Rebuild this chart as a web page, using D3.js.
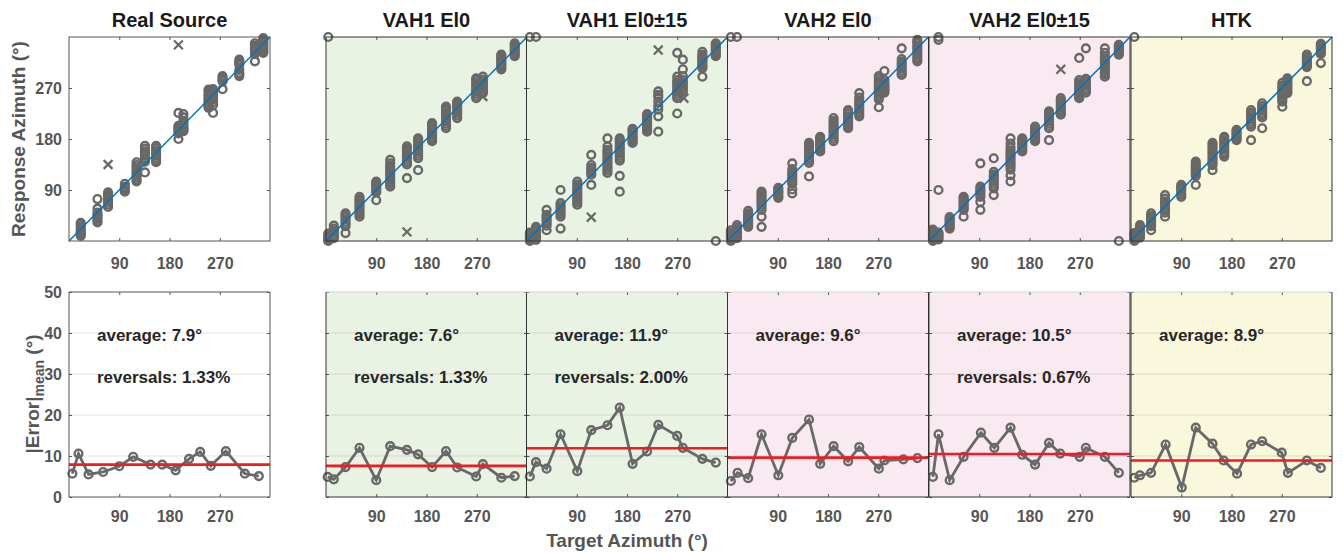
<!DOCTYPE html>
<html>
<head>
<meta charset="utf-8">
<script src="https://cdn.jsdelivr.net/npm/d3@7"></script>
<style>
  body { margin: 0; background: #fff; }
  text { font-family: "Liberation Sans", Arial, sans-serif; font-weight: bold; }
</style>
</head>
<body>
<svg width="1343" height="553"></svg>
<script>
// ---- data (degrees) ----
const titles = ["Real Source", "VAH1 El0", "VAH1 El0\u00b115", "VAH2 El0", "VAH2 El0\u00b115", "HTK"];
const averages = [7.9, 7.6, 11.9, 9.6, 10.5, 8.9];
const reversalRates = ["1.33%", "1.33%", "2.00%", null, "0.67%", null];
const azTicks = [90, 180, 270];
const errTicks = [0, 10, 20, 30, 40, 50];

// scatter: target azimuth and the responses given for it
const realTargets = [21, 51, 70, 100, 121, 136, 156, 196, 205, 250, 258, 275, 305, 333, 348];
const realResponses = [
  [9, 12, 15, 18, 21, 25, 29, 32], [33, 36, 40, 43, 46, 50, 57, 74], [60, 64, 68, 72, 76, 80, 83, 86], [87, 90, 93, 96, 101],
  [105, 108, 112, 116, 119, 122, 126, 130, 134, 139], [121, 140, 143, 146, 150, 154, 158, 163, 168], [139, 142, 146, 150, 153, 156, 160, 164, 168],
  [180, 190, 194, 197, 200, 203, 226], [194, 197, 200, 204, 208, 212, 218, 224], [235, 238, 241, 245, 248, 251, 254, 257, 260, 264, 267],
  [226, 240, 245, 250, 254, 258, 262, 265, 268], [268, 282, 285, 288, 291], [291, 294, 297, 302, 311, 314, 317, 320],
  [317, 330, 333, 336, 339, 342, 345, 349], [332, 335, 338, 341, 344, 347, 350, 353, 356, 358]];
const realReversals = [[70, 135], [196, 346]];

const vah1El0Targets = [4, 14, 35, 60, 90, 115, 145, 165, 190, 215, 235, 269, 281, 314, 338];
const vah1El0Responses = [
  [0, 3, 6, 9, 13, 360], [5, 8, 11, 15, 18, 22, 27], [14, 26, 30, 34, 38, 42, 46, 49], [43, 47, 51, 55, 59, 63, 67, 71, 74, 78],
  [72, 86, 89, 92, 95, 99, 102, 105], [96, 100, 104, 108, 112, 116, 120, 124, 128, 132, 137, 143], [111, 135, 139, 143, 147, 151, 155, 159, 163, 167],
  [125, 146, 150, 154, 158, 162, 166, 170, 174, 178, 181], [176, 179, 182, 186, 190, 194, 198, 202, 205, 208], [199, 203, 207, 211, 215, 219, 223, 227, 231, 234, 237],
  [217, 221, 225, 229, 233, 237, 241, 244, 246], [252, 256, 260, 264, 268, 272, 276, 280, 284, 287], [261, 265, 269, 273, 277, 281, 285, 290],
  [303, 306, 309, 312, 315, 318, 321, 324, 327, 329], [326, 329, 332, 335, 338, 341, 344, 347, 349]];
const vah1El0Reversals = [[145, 16], [281, 255]];

const vah1El15Targets = [6, 17, 36, 61, 91, 116, 145, 167, 190, 216, 236, 270, 280, 315, 339];
const vah1El15Responses = [
  [0, 3, 6, 9, 12, 15, 360], [2, 6, 10, 14, 18, 22, 25, 360], [19, 27, 31, 35, 39, 43, 46, 55], [22, 43, 47, 51, 55, 59, 63, 67, 90],
  [64, 68, 72, 76, 80, 84, 88, 92, 96, 100, 105], [99, 117, 121, 125, 129, 134, 152], [120, 124, 128, 132, 137, 141, 145, 149, 153, 157, 161, 167, 181],
  [87, 115, 142, 146, 150, 154, 158, 162, 166, 170, 174, 178, 181], [173, 176, 179, 182, 185, 188, 192, 195, 198], [193, 196, 199, 202, 205, 208, 212, 215, 218, 221, 224],
  [193, 220, 232, 238, 246, 254, 258, 264], [225, 252, 256, 260, 264, 268, 272, 276, 280, 284, 290, 332],
  [264, 268, 272, 276, 280, 284, 291, 303, 320], [290, 305, 308, 311, 314, 317, 320, 323, 326, 329, 334], [0, 326, 329, 332, 335, 338, 341, 344, 347, 349]];
const vah1El15Reversals = [[116, 42], [236, 337], [282, 252]];

const vah2El0Targets = [6, 17, 37, 61, 91, 116, 146, 166, 190, 216, 236, 271, 281, 312, 340];
const vah2El0Responses = [
  [0, 3, 6, 9, 12, 15, 19, 360], [5, 8, 11, 14, 17, 20, 24, 28, 360], [25, 28, 31, 34, 37, 40, 43, 46, 49, 53], [25, 43, 55, 60, 64, 68, 72, 76, 80, 84, 87],
  [76, 79, 82, 85, 88, 91, 94], [84, 91, 101, 105, 109, 113, 117, 121, 127, 137], [114, 138, 142, 146, 150, 154, 158, 162, 166, 170, 173],
  [158, 161, 164, 167, 170, 173, 176, 179, 182, 184], [176, 180, 184, 188, 192, 196, 200, 204, 208, 212, 217], [199, 202, 205, 208, 211, 214, 217, 220, 224, 228, 231],
  [220, 224, 228, 232, 236, 240, 244, 248, 253, 261], [236, 250, 254, 258, 262, 266, 270, 274, 278, 282, 287, 291],
  [262, 265, 268, 271, 274, 277, 280, 284, 300], [293, 296, 300, 304, 308, 312, 316, 321, 340], [317, 321, 325, 329, 333, 337, 341, 345, 349, 352, 355]];
const vah2El0Reversals = [];

const vah2El15Targets = [7, 17, 37, 62, 92, 116, 146, 167, 190, 215, 236, 269, 281, 315, 340];
const vah2El15Responses = [
  [0, 3, 6, 9, 12, 15, 18, 20], [3, 6, 9, 12, 15, 90, 355, 360], [22, 25, 28, 31, 34, 37, 40, 42], [43, 55, 58, 61, 64, 67, 70, 73, 76, 78],
  [55, 69, 78, 82, 86, 89, 92, 96, 137], [81, 93, 97, 101, 105, 109, 113, 117, 122, 146],
  [105, 116, 126, 131, 135, 139, 143, 147, 151, 155, 160, 165, 172, 181], [158, 161, 164, 167, 170, 173, 176, 179, 181], [176, 179, 182, 185, 188, 191, 194, 198, 202],
  [178, 199, 203, 207, 211, 215, 219, 223, 226, 229], [223, 226, 229, 232, 236, 240, 244, 248, 252], [252, 255, 258, 261, 264, 268, 272, 276, 280, 284, 323],
  [262, 266, 270, 274, 278, 282, 286, 340], [290, 294, 298, 302, 306, 310, 314, 318, 322, 326, 332, 340], [0, 329, 332, 335, 338, 341, 344, 346]];
const vah2El15Reversals = [[236, 303]];

const htkTargets = [6, 16, 36, 61, 90, 116, 146, 167, 189, 215, 235, 271, 280, 315, 340];
const htkResponses = [
  [0, 3, 6, 9, 12, 14, 360], [6, 9, 12, 15, 18, 21, 25, 28], [19, 26, 29, 32, 35, 38, 41, 45, 49], [43, 50, 54, 58, 62, 66, 70, 75, 81],
  [78, 82, 86, 90, 93, 96, 99], [99, 115, 118, 121, 124, 127, 130, 133, 136, 140], [125, 134, 138, 142, 146, 150, 154, 158, 162, 166, 170, 173],
  [149, 153, 157, 161, 165, 169, 173, 177, 181, 184], [178, 181, 184, 187, 190, 193, 196], [178, 202, 206, 210, 214, 218, 222, 226, 231],
  [199, 218, 222, 226, 230, 234, 238, 243], [237, 246, 250, 254, 258, 262, 266, 270, 274, 279], [261, 264, 267, 270, 273, 276, 279, 282, 285, 287],
  [282, 307, 310, 313, 316, 319, 322, 325, 329], [314, 330, 333, 336, 339, 342, 345, 348]];
const htkReversals = [];

// mean absolute error per target
const realErrX = [6, 17, 35, 61, 90, 115, 146, 167, 191, 215, 235, 254, 281, 315, 340];
const realErrY = [5.7, 10.6, 5.5, 6.1, 7.5, 9.8, 7.9, 7.9, 6.5, 9.3, 11.0, 7.6, 11.2, 5.7, 5.1];
const vah1El0ErrX = [3, 14, 35, 60, 90, 115, 145, 165, 190, 215, 235, 269, 281, 314, 338];
const vah1El0ErrY = [4.9, 4.3, 7.3, 12.0, 4.1, 12.4, 11.5, 10.4, 7.3, 11.2, 7.2, 5.0, 8.0, 4.7, 5.1];
const vah1El15ErrX = [6, 17, 36, 61, 91, 116, 145, 167, 190, 216, 236, 270, 280, 315, 339];
const vah1El15ErrY = [5.0, 8.5, 6.9, 15.3, 6.3, 16.3, 17.5, 21.8, 8.1, 11.1, 17.6, 14.9, 12.0, 9.3, 8.4];
const vah2El0ErrX = [6, 18, 37, 61, 91, 116, 146, 166, 190, 216, 236, 271, 281, 315, 340];
const vah2El0ErrY = [3.9, 5.9, 4.6, 15.3, 5.3, 14.4, 18.9, 8.1, 12.4, 8.7, 12.2, 6.9, 8.9, 9.2, 9.5];
const vah2El15ErrX = [7, 17, 37, 62, 93, 117, 146, 167, 190, 215, 235, 270, 281, 315, 340];
const vah2El15ErrY = [4.9, 15.3, 4.1, 9.8, 15.7, 12.0, 16.9, 10.3, 7.9, 13.2, 10.6, 9.8, 12.0, 9.8, 5.9];
const htkErrX = [6, 16, 36, 62, 91, 116, 146, 166, 190, 215, 235, 270, 281, 315, 340];
const htkErrY = [4.7, 5.3, 5.9, 12.8, 2.3, 16.9, 13.0, 8.9, 5.7, 12.8, 13.6, 10.8, 5.9, 8.9, 7.1];

const panels = [
  [realTargets, realResponses, realReversals, realErrX, realErrY],
  [vah1El0Targets, vah1El0Responses, vah1El0Reversals, vah1El0ErrX, vah1El0ErrY],
  [vah1El15Targets, vah1El15Responses, vah1El15Reversals, vah1El15ErrX, vah1El15ErrY],
  [vah2El0Targets, vah2El0Responses, vah2El0Reversals, vah2El0ErrX, vah2El0ErrY],
  [vah2El15Targets, vah2El15Responses, vah2El15Reversals, vah2El15ErrX, vah2El15ErrY],
  [htkTargets, htkResponses, htkReversals, htkErrX, htkErrY]
].map((p, i) => ({
  title: titles[i], avg: averages[i], rev: reversalRates[i],
  points: p[0].flatMap((t, j) => p[1][j].map(r => [t, r])),
  crosses: p[2],
  err: p[3].map((x, j) => [x, p[4][j]])
}));

// ---- layout ----
const svg = d3.select("svg");
const lefts = [69, 326, 526.5, 727.5, 929, 1131];
const panelW = 201;
const bgColors = [null, "#e9f3e4", "#e9f3e4", "#f9eaf2", "#f9eaf2", "#f9f8dc"];
const gray = "#686868";
const axisCol = "#555";
const labelCol = "#555";

function styleAxis(g, showLabels) {
  g.select(".domain").remove();
  g.selectAll(".tick line").attr("stroke", axisCol);
  g.selectAll(".tick text")
    .attr("fill", labelCol)
    .style("font-size", "16px")
    .style("display", showLabels ? null : "none");
}

function drawCircles(g, data, x, y) {
  g.selectAll(null).data(data).join("circle")
    .attr("cx", d => x(d[0])).attr("cy", d => y(d[1])).attr("r", 3.9)
    .attr("fill", "none").attr("stroke", gray).attr("stroke-width", 2.4);
}

panels.forEach((p, i) => {
  const left = lefts[i], right = left + panelW;
  const x = d3.scaleLinear().domain([0, 360]).range([left, right]);
  const yTop = d3.scaleLinear().domain([0, 360]).range([241, 37]);
  const yBot = d3.scaleLinear().domain([0, 50]).range([497, 292]);

  // --- top: response vs target ---
  const gt = svg.append("g");
  if (bgColors[i]) gt.append("rect").attr("x", left).attr("y", 37).attr("width", panelW).attr("height", 204).attr("fill", bgColors[i]);
  drawCircles(gt, p.points, x, yTop);
  gt.selectAll(null).data(p.crosses).join("path")
    .attr("d", d => { const cx = x(d[0]), cy = yTop(d[1]), s = 4.4;
      return `M${cx - s},${cy - s}L${cx + s},${cy + s}M${cx - s},${cy + s}L${cx + s},${cy - s}`; })
    .attr("stroke", gray).attr("stroke-width", 2.2).attr("fill", "none");
  gt.append("line")
    .attr("x1", x(0)).attr("y1", yTop(0)).attr("x2", x(360)).attr("y2", yTop(360))
    .attr("stroke", "#0072bd").attr("stroke-width", 1.5);

  gt.append("g").attr("transform", "translate(0,241)")
    .call(d3.axisBottom(x).tickValues(azTicks).tickSize(-3).tickPadding(17))
    .call(g => styleAxis(g, true));
  gt.append("g").attr("transform", "translate(0,37)")
    .call(d3.axisTop(x).tickValues(azTicks).tickSize(-3)).call(g => styleAxis(g, false));
  gt.append("g").attr("transform", `translate(${left},0)`)
    .call(d3.axisLeft(yTop).tickValues(azTicks).tickSize(-3).tickPadding(7))
    .call(g => styleAxis(g, i === 0));
  gt.append("g").attr("transform", `translate(${right},0)`)
    .call(d3.axisRight(yTop).tickValues(azTicks).tickSize(-3)).call(g => styleAxis(g, false));
  gt.append("rect").attr("x", left).attr("y", 37).attr("width", panelW).attr("height", 204)
    .attr("fill", "none").attr("stroke", i === 0 ? axisCol : "#333").attr("stroke-width", 1);

  gt.append("text").attr("x", (left + right) / 2).attr("y", 26.5)
    .attr("text-anchor", "middle").attr("fill", "#1a1a1a").style("font-size", "20px")
    .text(p.title);

  // --- bottom: mean absolute error ---
  const gb = svg.append("g");
  if (bgColors[i]) gb.append("rect").attr("x", left).attr("y", 292).attr("width", panelW).attr("height", 205).attr("fill", bgColors[i]);
  gb.selectAll(null).data([10, 20, 30, 40]).join("line")
    .attr("x1", left).attr("x2", right).attr("y1", d => yBot(d)).attr("y2", d => yBot(d))
    .attr("stroke", "#262626").attr("stroke-opacity", 0.13).attr("stroke-width", 1);

  gb.append("path").datum(p.err)
    .attr("d", d3.line().x(d => x(d[0])).y(d => yBot(d[1])))
    .attr("fill", "none").attr("stroke", gray).attr("stroke-width", 2.8);
  drawCircles(gb, p.err, x, yBot);
  gb.append("line")
    .attr("x1", x(0)).attr("x2", x(360)).attr("y1", yBot(p.avg)).attr("y2", yBot(p.avg))
    .attr("stroke", "#f01c22").attr("stroke-width", 2.6);

  gb.append("g").attr("transform", "translate(0,497)")
    .call(d3.axisBottom(x).tickValues(azTicks).tickSize(-3).tickPadding(14))
    .call(g => styleAxis(g, true));
  gb.append("g").attr("transform", "translate(0,292)")
    .call(d3.axisTop(x).tickValues(azTicks).tickSize(-3)).call(g => styleAxis(g, false));
  gb.append("g").attr("transform", `translate(${left},0)`)
    .call(d3.axisLeft(yBot).tickValues(errTicks).tickSize(-3).tickPadding(7))
    .call(g => styleAxis(g, i === 0));
  gb.append("g").attr("transform", `translate(${right},0)`)
    .call(d3.axisRight(yBot).tickValues(errTicks).tickSize(-3)).call(g => styleAxis(g, false));

  // box: bottom and sides, top edge lighter on shaded panels
  gb.append("path")
    .attr("d", `M${left},292V497H${right}V292`)
    .attr("fill", "none").attr("stroke", i === 0 ? axisCol : "#333");
  gb.append("line").attr("x1", left).attr("x2", right).attr("y1", 292).attr("y2", 292)
    .attr("stroke", i === 0 ? axisCol : "#d4d4d4");

  gb.append("text").attr("x", left + 28).attr("y", 341)
    .attr("fill", "#262626").style("font-size", "17px")
    .text(`average: ${p.avg.toFixed(1)}\u00b0`);
  if (p.rev) {
    gb.append("text").attr("x", left + 28).attr("y", 383)
      .attr("fill", "#262626").style("font-size", "17px")
      .text(`reversals: ${p.rev}`);
  }
});

// axis titles
svg.append("text").attr("transform", "translate(25,139) rotate(-90)")
  .attr("text-anchor", "middle").attr("fill", labelCol).style("font-size", "19px")
  .text("Response Azimuth (\u00b0)");

const errLabel = svg.append("text").attr("transform", "translate(39,394) rotate(-90)")
  .attr("text-anchor", "middle").attr("fill", labelCol).style("font-size", "19px");
errLabel.append("tspan").text("|Error|");
errLabel.append("tspan").attr("dy", 5).style("font-size", "14px").text("mean");
errLabel.append("tspan").attr("dy", -5).text(" (\u00b0)");

svg.append("text").attr("x", 627).attr("y", 547)
  .attr("text-anchor", "middle").attr("fill", labelCol).style("font-size", "19px")
  .text("Target Azimuth (\u00b0)");
</script>
</body>
</html>
